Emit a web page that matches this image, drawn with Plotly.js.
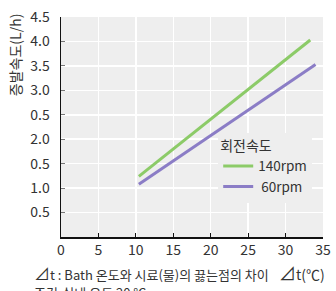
<!DOCTYPE html>
<html><head><meta charset="utf-8">
<script src="https://cdn.plot.ly/plotly-3.0.1.min.js"></script>
<style>body{margin:0;padding:0;background:#fff}#c{width:336px;height:291px}</style>
</head><body><div id="c"></div>
<script>
const seriesNames = ['140rpm', ' 60rpm'];
const x140 = [10.4, 33.3];
const y140 = [1.24, 4.03];
const x60 = [10.4, 34.0];
const y60 = [1.08, 3.53];
const xTickVals = [0, 5, 10, 15, 20, 25, 30, 35];
const xTickText = ['0', '5', '10', '15', '20', '25', '30', '35'];
const yTickVals = [0.5, 1.0, 1.5, 2.0, 2.5, 3.0, 3.5, 4.0, 4.5];
const yTickText = ['0.5', '1.0', '0.5', '2.0', '0.5', '3.0', '3.5', '4.0', '4.5'];

const F = '"Noto Sans CJK KR", "Noto Sans", sans-serif';
const data = [
  {x: x140, y: y140, name: seriesNames[0], mode: 'lines', line: {color: '#8ccb68', width: 3}},
  {x: x60, y: y60, name: seriesNames[1], mode: 'lines', line: {color: '#8b7dc6', width: 3}}
];
const layout = {
  width: 336, height: 291,
  margin: {l: 61, r: 13, t: 17, b: 54},
  paper_bgcolor: '#ffffff', plot_bgcolor: '#eeeeee',
  font: {family: F, size: 13, color: '#333'},
  showlegend: true,
  legend: {x: 0.6, y: 0.475, xanchor: 'left', yanchor: 'top', bgcolor: '#eeeeee',
           title: {text: '회전속도', font: {size: 14, color: '#333'}},
           font: {size: 13.5, color: '#333'}, itemwidth: 30, tracegroupgap: 0},
  xaxis: {range: [0, 35], tickvals: xTickVals, ticktext: xTickText, showgrid: true, gridcolor: '#ffffff', gridwidth: 1.5,
          ticks: 'inside', ticklen: 4, tickcolor: '#111', showline: true, linecolor: '#111', linewidth: 1.5,
          zeroline: false, tickfont: {size: 14, color: '#333'}, fixedrange: true},
  yaxis: {range: [0, 4.5], tickvals: yTickVals, ticktext: yTickText, showgrid: true, gridcolor: '#ffffff', gridwidth: 1.5,
          ticks: 'inside', ticklen: 4, tickcolor: '#777', showline: true, linecolor: '#111', linewidth: 1.5,
          zeroline: false, tickfont: {size: 14, color: '#333'}, ticklabelstandoff: 7, fixedrange: true},
  annotations: [
    {xref: 'paper', yref: 'paper', x: -0.175, y: 1.025, xanchor: 'center', yanchor: 'top', textangle: -90,
     text: '증발속도(L/h)', showarrow: false, font: {size: 14, color: '#333'}},
    {xref: 'paper', yref: 'paper', x: 1.015, y: -0.095, xanchor: 'right', yanchor: 'top',
     text: '<span style="font-size:17px">⊿</span>t(℃)', showarrow: false, font: {size: 14, color: '#333'}},
    {xref: 'paper', yref: 'paper', x: -0.11, y: -0.1, xanchor: 'left', yanchor: 'top',
     text: '<span style="font-size:16px">⊿</span>t : Bath 온도와 시료(물)의 끓는점의 차이', showarrow: false, font: {size: 13, color: '#333'}},
    {xref: 'paper', yref: 'paper', x: -0.11, y: -0.2, xanchor: 'left', yanchor: 'top',
     text: '조건•실내 온도 20 ℃', showarrow: false, font: {size: 13, color: '#333'}}
  ]
};
Plotly.newPlot('c', data, layout, {displayModeBar: false, staticPlot: true});
</script></body></html>
